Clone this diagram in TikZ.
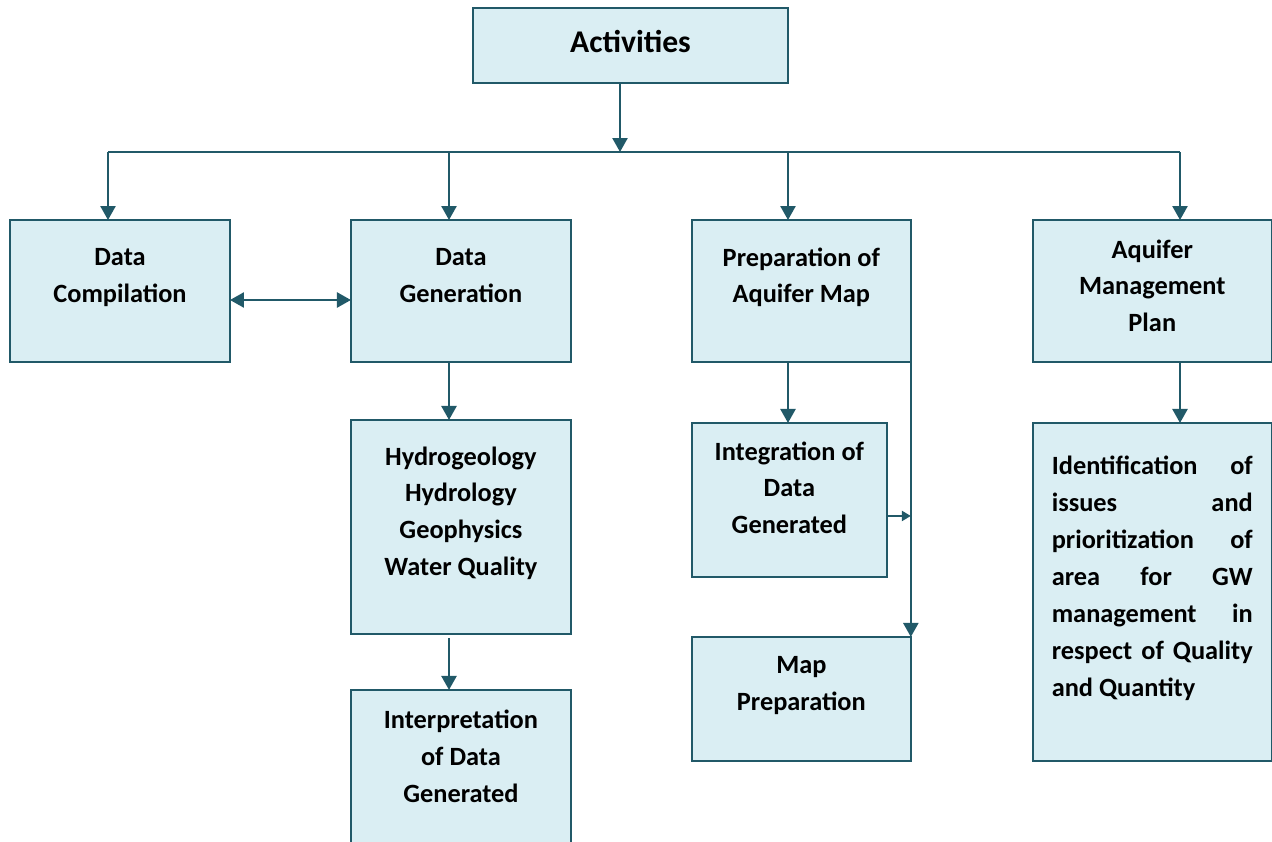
\documentclass[tikz,border=0pt]{standalone}
\usepackage{fontspec}
\setmainfont{Carlito}
\usetikzlibrary{arrows.meta,positioning}
\definecolor{darkteal}{RGB}{33,89,104}
\definecolor{paleblue}{RGB}{218,238,243}
\newcommand{\pad}[1][-3pt]{\\[#1]\mbox{}}
\hyphenpenalty=10000
\tolerance=10000

\begin{document}
\begin{tikzpicture}[x=0.02cm,y=-0.02cm,line width=1.4pt,
	>={Triangle[length=0.28cm,width=0.3cm]}]
	  \tikzstyle{box}=[rectangle,draw=darkteal,fill=paleblue,text=black,align=center,inner sep=0pt,outer sep=0pt,
	    font=\fontsize{15}{21}\selectfont\bfseries,minimum width=4.4cm,minimum height=2.84cm]
	  \tikzstyle{link}=[draw=darkteal,->]

	  \useasboundingbox (0,0) rectangle (1272,842);

	  \node[box] (act) [minimum width=6.3cm,minimum height=1.5cm,font=\fontsize{18}{22}\selectfont\bfseries] at (630.5,45.5) {Activities\pad[-17pt]};

	  \node[box] (comp) at (120,291) {Data\\Compilation\pad};
	  \node[box] (gen) [right=2.42cm of comp] {Data\\Generation\pad};
	  \node[box] (prep) [minimum width=4.38cm,right=2.42cm of gen] {Preparation of\\Aquifer Map\pad};
	  \node[box] (amp) [minimum width=4.78cm,right=2.44cm of prep] {Aquifer\\Management\\Plan\pad[-15pt]};

	  \node[box] (hydro) [minimum height=4.28cm,below=1.16cm of gen] {Hydrogeology\\Hydrology\\Geophysics\\Water Quality\pad};
	  \node[box] (interp) [minimum height=3.4cm,below=1.12cm of hydro] {Interpretation\\of Data\\Generated\pad[0pt]};

	  \node[box] (integ) [minimum width=3.9cm,minimum height=3.08cm,below right=1.22cm and 0cm of prep.south west] {Integration of\\Data\\Generated\pad[-7pt]};
	  \node[box] (map) [minimum width=4.38cm,minimum height=2.48cm,below right=1.2cm and 0cm of integ.south west] {Map\\Preparation\pad};

	  \node[box] (ident) [minimum width=4.78cm,minimum height=6.76cm,below=1.22cm of amp,align=justify,text width=4.02cm]
	    {Identification of\linebreak issues and\linebreak prioritization of\linebreak area for GW\linebreak management in\linebreak respect of Quality\linebreak and Quantity\pad};

	  % bus under Activities
	  \coordinate (bus) at (620,152);
	  \coordinate (d1) at (108,152);
	  \coordinate (d2) at (449,152);
	  \coordinate (d3) at (788,152);
	  \coordinate (d4) at (1180,152);
	  \coordinate (tap) at ([yshift=-0.32cm]integ.east);

	  \draw[darkteal] (d1) -- (d4);

	  \path
	  (act.south -| bus) edge[link] (bus)
	  (d1) edge[link] (d1 |- comp.north)
	  (d2) edge[link] (d2 |- gen.north)
	  (d3) edge[link] (d3 |- prep.north)
	  (d4) edge[link] (d4 |- amp.north)

	  ([yshift=-0.18cm]comp.east) edge[link,<->] ([yshift=-0.18cm]gen.west)
	  (d2 |- gen.south) edge[link] (d2 |- hydro.north)
	  ([yshift=-0.08cm]d2 |- hydro.south) edge[link] (d2 |- interp.north)

	  (d3 |- prep.south) edge[link] (d3 |- integ.north)
	  (prep.south east) edge[link] (prep.south east |- map.north)
	  (tap) edge[link,-{Triangle[length=0.18cm,width=0.2cm]}] (tap -| prep.east)

	  (d4 |- amp.south) edge[link] (d4 |- ident.north)
	  ;
	\end{tikzpicture}
\end{document}
